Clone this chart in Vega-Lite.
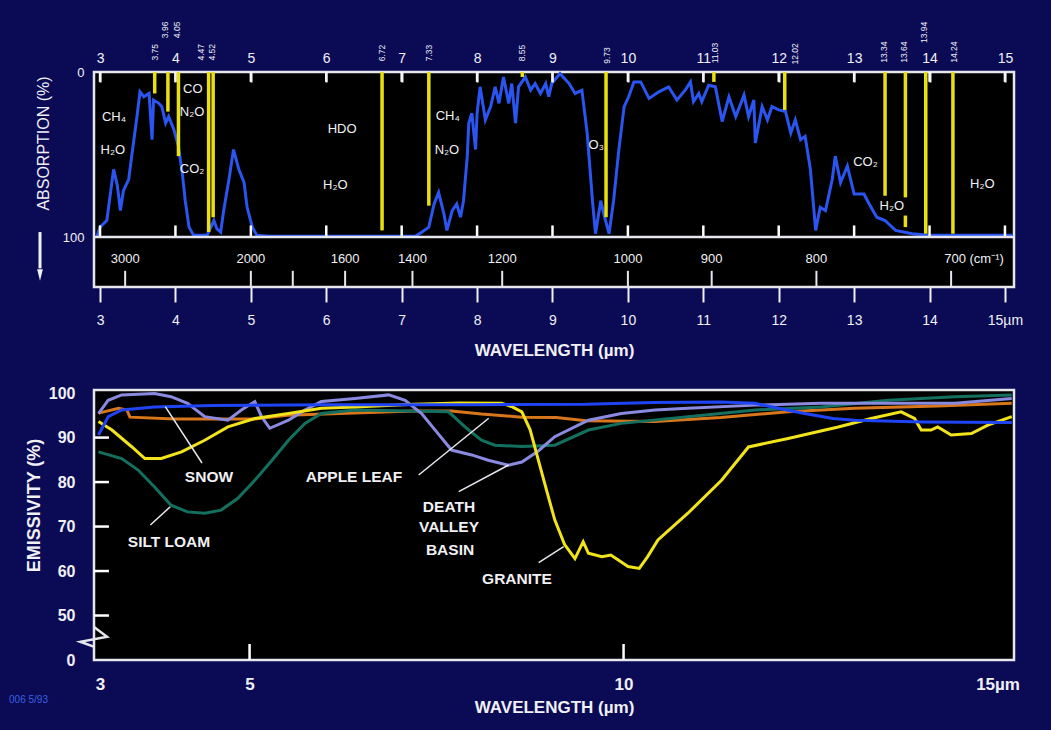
{
  "$schema": "https://vega.github.io/schema/vega-lite/v6.json",
  "background": "#0b0b55",
  "padding": {"left": 7, "top": 20, "right": 30, "bottom": 14},
  "autosize": {"type": "pad"},
  "bounds": "flush",
  "spacing": 103,
  "config": {
    "view": {"fill": "#000000", "stroke": "#e6e6ee", "strokeWidth": 2.5},
    "axis": {"domain": false, "grid": false, "labelColor": "#f0f0f5", "titleColor": "#f0f0f5", "tickColor": "#f0f0f5", "labelFont": "Liberation Sans", "titleFont": "Liberation Sans", "labelFlush": false, "labelOverlap": false},
    "text": {"font": "Liberation Sans", "color": "#f0f0f5"}
  },
  "datasets": {
    "absorption": [
      {"w":2.96,"a":99.5},{"w":3.0,"a":94},{"w":3.09,"a":90},{"w":3.18,"a":59},{"w":3.23,"a":69},{"w":3.27,"a":84},{"w":3.31,"a":72},{"w":3.38,"a":65},{"w":3.42,"a":51},{"w":3.49,"a":27},{"w":3.53,"a":12},{"w":3.58,"a":15},{"w":3.65,"a":13},{"w":3.69,"a":41},{"w":3.71,"a":17},{"w":3.78,"a":19},{"w":3.82,"a":21},{"w":3.87,"a":31},{"w":3.91,"a":27},{"w":3.98,"a":35},{"w":4.04,"a":45},{"w":4.09,"a":61},{"w":4.13,"a":78},{"w":4.18,"a":94},{"w":4.24,"a":99},{"w":4.42,"a":99},{"w":4.51,"a":90},{"w":4.55,"a":95},{"w":4.6,"a":97},{"w":4.64,"a":84},{"w":4.71,"a":65},{"w":4.77,"a":47},{"w":4.84,"a":59},{"w":4.91,"a":67},{"w":4.95,"a":82},{"w":5.02,"a":94},{"w":5.08,"a":99},{"w":5.24,"a":99.5},{"w":7.18,"a":99.5},{"w":7.27,"a":97},{"w":7.36,"a":94},{"w":7.43,"a":80},{"w":7.49,"a":73},{"w":7.56,"a":86},{"w":7.6,"a":96},{"w":7.67,"a":84},{"w":7.73,"a":80},{"w":7.78,"a":88},{"w":7.82,"a":78},{"w":7.87,"a":51},{"w":7.89,"a":31},{"w":7.93,"a":25},{"w":7.98,"a":47},{"w":8.0,"a":25},{"w":8.04,"a":9},{"w":8.11,"a":29},{"w":8.18,"a":21},{"w":8.24,"a":9},{"w":8.29,"a":19},{"w":8.35,"a":3},{"w":8.42,"a":19},{"w":8.46,"a":7},{"w":8.51,"a":31},{"w":8.55,"a":9},{"w":8.64,"a":3},{"w":8.71,"a":11},{"w":8.77,"a":7},{"w":8.84,"a":13},{"w":8.91,"a":7},{"w":8.95,"a":15},{"w":8.99,"a":7},{"w":9.1,"a":1},{"w":9.22,"a":7},{"w":9.3,"a":13},{"w":9.39,"a":11},{"w":9.46,"a":37},{"w":9.53,"a":78},{"w":9.57,"a":98},{"w":9.64,"a":78},{"w":9.68,"a":86},{"w":9.75,"a":98},{"w":9.81,"a":78},{"w":9.88,"a":47},{"w":9.95,"a":21},{"w":10.01,"a":15},{"w":10.08,"a":6},{"w":10.17,"a":6},{"w":10.28,"a":16},{"w":10.41,"a":12},{"w":10.54,"a":9},{"w":10.65,"a":17},{"w":10.76,"a":11},{"w":10.83,"a":6},{"w":10.87,"a":18},{"w":10.94,"a":13},{"w":10.98,"a":18},{"w":11.07,"a":8},{"w":11.16,"a":9},{"w":11.25,"a":30},{"w":11.34,"a":15},{"w":11.43,"a":27},{"w":11.54,"a":14},{"w":11.6,"a":27},{"w":11.67,"a":17},{"w":11.69,"a":43},{"w":11.78,"a":21},{"w":11.85,"a":29},{"w":11.91,"a":21},{"w":12.0,"a":23},{"w":12.09,"a":24},{"w":12.16,"a":37},{"w":12.22,"a":29},{"w":12.29,"a":41},{"w":12.35,"a":39},{"w":12.42,"a":59},{"w":12.49,"a":96},{"w":12.55,"a":82},{"w":12.62,"a":84},{"w":12.71,"a":65},{"w":12.75,"a":51},{"w":12.82,"a":67},{"w":12.91,"a":57},{"w":13.0,"a":74},{"w":13.13,"a":74},{"w":13.2,"a":80},{"w":13.3,"a":88},{"w":13.41,"a":90},{"w":13.55,"a":96},{"w":13.77,"a":98},{"w":13.99,"a":99},{"w":15.1,"a":99}
    ],
    "bands": [
      {"w":3.725,"a1":0,"a2":13},{"w":3.9,"a1":0,"a2":24},{"w":4.04,"a1":0,"a2":51},{"w":4.44,"a1":0,"a2":97},{"w":4.5,"a1":0,"a2":88},{"w":6.74,"a1":0,"a2":96},{"w":7.36,"a1":0,"a2":81},{"w":8.6,"a1":0,"a2":3},{"w":9.71,"a1":0,"a2":88},{"w":11.14,"a1":0,"a2":6},{"w":12.08,"a1":0,"a2":23},{"w":13.41,"a1":0,"a2":75},{"w":13.68,"a1":0,"a2":76},{"w":13.68,"a1":87,"a2":94},{"w":13.95,"a1":0,"a2":98},{"w":14.31,"a1":0,"a2":98}
    ],
    "tmarks": [
      {"w":3.0,"a1":93,"a2":100},{"w":4.0,"a1":93,"a2":100},{"w":5.0,"a1":93,"a2":100},{"w":6.0,"a1":93,"a2":100},{"w":7.0,"a1":93,"a2":100},{"w":8.0,"a1":93,"a2":100},{"w":9.0,"a1":93,"a2":100},{"w":10.0,"a1":93,"a2":100},{"w":11.0,"a1":93,"a2":100},{"w":12.0,"a1":93,"a2":100},{"w":13.0,"a1":93,"a2":100},{"w":14.0,"a1":93,"a2":100},{"w":15.0,"a1":93,"a2":100},
      {"w":3.0,"a1":0,"a2":6},{"w":4.0,"a1":0,"a2":6},{"w":5.0,"a1":0,"a2":6},{"w":6.0,"a1":0,"a2":6},{"w":7.0,"a1":0,"a2":6},{"w":8.0,"a1":0,"a2":6},{"w":9.0,"a1":0,"a2":6},{"w":10.0,"a1":0,"a2":6},{"w":11.0,"a1":0,"a2":6},{"w":12.0,"a1":0,"a2":6},{"w":13.0,"a1":0,"a2":6},{"w":14.0,"a1":0,"a2":6},{"w":15.0,"a1":0,"a2":6}
    ],
    "bandlabels": [
      {"w":3.729,"a":-12,"t":"3.75"},{"w":3.86,"a":-25.5,"t":"3.96"},{"w":4.02,"a":-25.5,"t":"4.05"},{"w":4.34,"a":-12,"t":"4.47"},{"w":4.485,"a":-12,"t":"4.52"},{"w":6.74,"a":-11.5,"t":"6.72"},{"w":7.36,"a":-11.5,"t":"7.33"},{"w":8.6,"a":-11.5,"t":"8.55"},{"w":9.72,"a":-10,"t":"9.73"},{"w":11.16,"a":-11.5,"t":"11.03"},{"w":12.22,"a":-11,"t":"12.02"},{"w":13.4,"a":-12,"t":"13.34"},{"w":13.66,"a":-12,"t":"13.64"},{"w":13.93,"a":-24,"t":"13.94"},{"w":14.33,"a":-12,"t":"14.24"}
    ],
    "gases": [
      {"w":3.185,"a":27,"t":"CH₄"},{"w":3.17,"a":47,"t":"H₂O"},{"w":4.23,"a":10,"t":"CO"},{"w":4.22,"a":24,"t":"N₂O"},{"w":4.22,"a":59,"t":"CO₂"},{"w":6.21,"a":34.7,"t":"HDO"},{"w":6.12,"a":68.5,"t":"H₂O"},{"w":7.61,"a":26.7,"t":"CH₄"},{"w":7.6,"a":47.3,"t":"N₂O"},{"w":9.58,"a":44,"t":"O₃"},{"w":13.15,"a":54.3,"t":"CO₂"},{"w":13.5,"a":81,"t":"H₂O"},{"w":14.7,"a":68,"t":"H₂O"}
    ],
    "wavenumbers": [
      {"w":3.333,"lw":3.333,"t":"3000"},{"w":5.0,"lw":5.0,"t":"2000"},{"w":5.556,"lw":5.556,"t":""},{"w":6.25,"lw":6.25,"t":"1600"},{"w":7.143,"lw":7.143,"t":"1400"},{"w":8.333,"lw":8.333,"t":"1200"},{"w":10.0,"lw":10.0,"t":"1000"},{"w":11.111,"lw":11.111,"t":"900"},{"w":12.5,"lw":12.5,"t":"800"},{"w":14.286,"lw":14.59,"t":"700 (cm⁻¹)"}
    ],
    "emissivity": [
      {"s":"APPLE LEAF","w":2.98,"v":95.5},{"s":"APPLE LEAF","w":3.25,"v":96.6},{"s":"APPLE LEAF","w":3.36,"v":96.2},{"s":"APPLE LEAF","w":3.4,"v":94.6},{"s":"APPLE LEAF","w":4.0,"v":94.2},{"s":"APPLE LEAF","w":5.07,"v":94.2},{"s":"APPLE LEAF","w":5.5,"v":95.0},{"s":"APPLE LEAF","w":6.5,"v":95.6},{"s":"APPLE LEAF","w":7.2,"v":96.0},{"s":"APPLE LEAF","w":7.7,"v":96.0},{"s":"APPLE LEAF","w":8.1,"v":95.3},{"s":"APPLE LEAF","w":8.64,"v":94.6},{"s":"APPLE LEAF","w":9.1,"v":94.5},{"s":"APPLE LEAF","w":9.5,"v":93.8},{"s":"APPLE LEAF","w":10.42,"v":93.6},{"s":"APPLE LEAF","w":11.3,"v":94.5},{"s":"APPLE LEAF","w":12.2,"v":95.8},{"s":"APPLE LEAF","w":13.09,"v":96.6},{"s":"APPLE LEAF","w":14.2,"v":97.1},{"s":"APPLE LEAF","w":15.19,"v":97.7},
      {"s":"SILT LOAM","w":2.98,"v":86.8},{"s":"SILT LOAM","w":3.29,"v":85.3},{"s":"SILT LOAM","w":3.51,"v":82.7},{"s":"SILT LOAM","w":3.73,"v":78.9},{"s":"SILT LOAM","w":3.95,"v":74.8},{"s":"SILT LOAM","w":4.17,"v":73.3},{"s":"SILT LOAM","w":4.4,"v":73.0},{"s":"SILT LOAM","w":4.62,"v":73.7},{"s":"SILT LOAM","w":4.84,"v":76.3},{"s":"SILT LOAM","w":5.07,"v":80.4},{"s":"SILT LOAM","w":5.3,"v":84.9},{"s":"SILT LOAM","w":5.52,"v":89.4},{"s":"SILT LOAM","w":5.74,"v":93.2},{"s":"SILT LOAM","w":5.96,"v":95.4},{"s":"SILT LOAM","w":6.41,"v":96.2},{"s":"SILT LOAM","w":7.66,"v":95.8},{"s":"SILT LOAM","w":7.88,"v":92.4},{"s":"SILT LOAM","w":8.1,"v":89.4},{"s":"SILT LOAM","w":8.28,"v":88.3},{"s":"SILT LOAM","w":8.64,"v":88.0},{"s":"SILT LOAM","w":9.08,"v":88.3},{"s":"SILT LOAM","w":9.53,"v":91.7},{"s":"SILT LOAM","w":9.97,"v":93.2},{"s":"SILT LOAM","w":10.86,"v":94.7},{"s":"SILT LOAM","w":11.76,"v":96.2},{"s":"SILT LOAM","w":12.64,"v":96.9},{"s":"SILT LOAM","w":13.54,"v":98.4},{"s":"SILT LOAM","w":14.43,"v":99.2},{"s":"SILT LOAM","w":15.19,"v":99.6},
      {"s":"DEATH VALLEY BASIN","w":2.98,"v":95.4},{"s":"DEATH VALLEY BASIN","w":3.11,"v":98.4},{"s":"DEATH VALLEY BASIN","w":3.29,"v":99.6},{"s":"DEATH VALLEY BASIN","w":3.73,"v":99.9},{"s":"DEATH VALLEY BASIN","w":3.95,"v":99.2},{"s":"DEATH VALLEY BASIN","w":4.17,"v":97.7},{"s":"DEATH VALLEY BASIN","w":4.4,"v":94.7},{"s":"DEATH VALLEY BASIN","w":4.71,"v":93.9},{"s":"DEATH VALLEY BASIN","w":4.89,"v":96.2},{"s":"DEATH VALLEY BASIN","w":5.07,"v":98.1},{"s":"DEATH VALLEY BASIN","w":5.16,"v":94.7},{"s":"DEATH VALLEY BASIN","w":5.27,"v":92.1},{"s":"DEATH VALLEY BASIN","w":5.52,"v":93.9},{"s":"DEATH VALLEY BASIN","w":5.74,"v":96.2},{"s":"DEATH VALLEY BASIN","w":5.96,"v":98.1},{"s":"DEATH VALLEY BASIN","w":6.41,"v":98.8},{"s":"DEATH VALLEY BASIN","w":6.86,"v":99.6},{"s":"DEATH VALLEY BASIN","w":7.08,"v":98.4},{"s":"DEATH VALLEY BASIN","w":7.3,"v":95.4},{"s":"DEATH VALLEY BASIN","w":7.52,"v":90.9},{"s":"DEATH VALLEY BASIN","w":7.7,"v":87.2},{"s":"DEATH VALLEY BASIN","w":7.97,"v":86.1},{"s":"DEATH VALLEY BASIN","w":8.19,"v":84.9},{"s":"DEATH VALLEY BASIN","w":8.46,"v":83.8},{"s":"DEATH VALLEY BASIN","w":8.64,"v":84.5},{"s":"DEATH VALLEY BASIN","w":8.86,"v":87.0},{"s":"DEATH VALLEY BASIN","w":9.08,"v":90.2},{"s":"DEATH VALLEY BASIN","w":9.53,"v":93.9},{"s":"DEATH VALLEY BASIN","w":9.97,"v":95.4},{"s":"DEATH VALLEY BASIN","w":10.42,"v":96.2},{"s":"DEATH VALLEY BASIN","w":10.86,"v":96.6},{"s":"DEATH VALLEY BASIN","w":11.76,"v":97.3},{"s":"DEATH VALLEY BASIN","w":12.64,"v":97.7},{"s":"DEATH VALLEY BASIN","w":13.54,"v":97.7},{"s":"DEATH VALLEY BASIN","w":14.43,"v":97.7},{"s":"DEATH VALLEY BASIN","w":15.19,"v":98.8},
      {"s":"GRANITE","w":2.98,"v":93.6},{"s":"GRANITE","w":3.16,"v":91.7},{"s":"GRANITE","w":3.42,"v":88.0},{"s":"GRANITE","w":3.6,"v":85.3},{"s":"GRANITE","w":3.82,"v":85.3},{"s":"GRANITE","w":4.09,"v":86.8},{"s":"GRANITE","w":4.4,"v":89.4},{"s":"GRANITE","w":4.71,"v":92.4},{"s":"GRANITE","w":5.07,"v":94.3},{"s":"GRANITE","w":5.52,"v":95.4},{"s":"GRANITE","w":5.96,"v":96.6},{"s":"GRANITE","w":6.41,"v":96.9},{"s":"GRANITE","w":7.2,"v":97.5},{"s":"GRANITE","w":7.8,"v":97.8},{"s":"GRANITE","w":8.37,"v":97.7},{"s":"GRANITE","w":8.5,"v":97.0},{"s":"GRANITE","w":8.64,"v":95.8},{"s":"GRANITE","w":8.75,"v":91.8},{"s":"GRANITE","w":8.86,"v":85.0},{"s":"GRANITE","w":8.97,"v":78.2},{"s":"GRANITE","w":9.08,"v":71.5},{"s":"GRANITE","w":9.21,"v":66.0},{"s":"GRANITE","w":9.35,"v":62.8},{"s":"GRANITE","w":9.46,"v":66.6},{"s":"GRANITE","w":9.53,"v":64.0},{"s":"GRANITE","w":9.71,"v":63.2},{"s":"GRANITE","w":9.83,"v":63.6},{"s":"GRANITE","w":10.06,"v":61.0},{"s":"GRANITE","w":10.21,"v":60.6},{"s":"GRANITE","w":10.32,"v":63.2},{"s":"GRANITE","w":10.46,"v":67.0},{"s":"GRANITE","w":10.86,"v":73.0},{"s":"GRANITE","w":11.31,"v":80.4},{"s":"GRANITE","w":11.67,"v":87.9},{"s":"GRANITE","w":12.2,"v":89.8},{"s":"GRANITE","w":12.87,"v":92.4},{"s":"GRANITE","w":13.31,"v":94.3},{"s":"GRANITE","w":13.71,"v":95.8},{"s":"GRANITE","w":13.89,"v":94.3},{"s":"GRANITE","w":13.98,"v":91.7},{"s":"GRANITE","w":14.11,"v":91.7},{"s":"GRANITE","w":14.2,"v":92.4},{"s":"GRANITE","w":14.38,"v":90.6},{"s":"GRANITE","w":14.65,"v":90.9},{"s":"GRANITE","w":14.87,"v":92.8},{"s":"GRANITE","w":15.19,"v":94.7},
      {"s":"SNOW","w":2.98,"v":90.6},{"s":"SNOW","w":3.11,"v":94.7},{"s":"SNOW","w":3.29,"v":96.2},{"s":"SNOW","w":3.73,"v":96.9},{"s":"SNOW","w":4.5,"v":97.2},{"s":"SNOW","w":6.0,"v":97.4},{"s":"SNOW","w":8.0,"v":97.4},{"s":"SNOW","w":9.5,"v":97.5},{"s":"SNOW","w":10.4,"v":97.9},{"s":"SNOW","w":11.3,"v":98.0},{"s":"SNOW","w":11.76,"v":97.7},{"s":"SNOW","w":12.1,"v":96.5},{"s":"SNOW","w":12.42,"v":95.4},{"s":"SNOW","w":12.8,"v":94.3},{"s":"SNOW","w":13.09,"v":93.9},{"s":"SNOW","w":14.0,"v":93.5},{"s":"SNOW","w":15.19,"v":93.4}
    ],
    "pointers": [
      {"w":4.364,"v":84.29,"w2":3.873,"v2":96.95},
      {"w":7.261,"v":81.59,"w2":8.197,"v2":94.34},
      {"w":7.796,"v":77.84,"w2":8.464,"v2":83.84},
      {"w":3.673,"v":70.35,"w2":3.94,"v2":74.46},
      {"w":8.865,"v":61.87,"w2":9.199,"v2":65.47}
    ],
    "bmarks": [
      {"w":2.92,"v":50.0,"w2":3.12,"v2":50.0},
      {"w":2.92,"v":60.0,"w2":3.12,"v2":60.0},
      {"w":2.92,"v":70.0,"w2":3.12,"v2":70.0},
      {"w":2.92,"v":80.0,"w2":3.12,"v2":80.0},
      {"w":2.92,"v":90.0,"w2":3.12,"v2":90.0},
      {"w":5.0,"v":40.0,"w2":5.0,"v2":43.6},
      {"w":10.0,"v":40.0,"w2":10.0,"v2":43.6}
    ],
    "labels": [
      {"w":4.457,"v":81.1,"t":"SNOW"},
      {"w":6.396,"v":81.1,"t":"APPLE LEAF"},
      {"w":3.923,"v":66.5,"t":"SILT LOAM"},
      {"w":7.666,"v":74.4,"t":"DEATH"},
      {"w":7.666,"v":69.9,"t":"VALLEY"},
      {"w":7.68,"v":64.7,"t":"BASIN"},
      {"w":8.575,"v":58.2,"t":"GRANITE"}
    ],
    "zigzag": [
      {"i":0,"w":2.916,"v":47.5},{"i":1,"w":3.094,"v":45.24},{"i":2,"w":2.737,"v":44.1},{"i":3,"w":2.916,"v":43.0}
    ]
  },
  "vconcat": [
    {
      "width": 920,
      "height": 215,
      "resolve": {"axis": {"x": "independent", "y": "independent"}},
      "layer": [
        {
          "data": {"name": "absorption"},
          "mark": {"type": "line", "color": "#2b55f0", "strokeWidth": 3},
          "encoding": {
            "x": {"field": "w", "type": "quantitative", "scale": {"domain": [2.92, 15.12], "nice": false, "zero": false},
              "axis": {"orient": "bottom", "values": [3,4,5,6,7,8,9,10,11,12,13,14,15], "labelExpr": "datum.value == 15 ? '15µm' : datum.label", "tickSize": 15, "tickWidth": 2, "labelPadding": 11, "labelFontSize": 14, "title": "WAVELENGTH (µm)", "titleFontSize": 17, "titleFontWeight": "bold", "titleY": 63, "titleBaseline": "middle"}},
            "y": {"field": "a", "type": "quantitative", "scale": {"domain": [0, 130.3], "reverse": true, "nice": false, "zero": false},
              "axis": {"orient": "left", "values": [0, 100], "ticks": false, "labelPadding": 10, "labelFontSize": 13, "title": "ABSORPTION (%)", "titleAngle": 270, "titleX": -51, "titleY": 71, "titleFontSize": 16, "titleFontWeight": "normal", "titleAlign": "center", "titleBaseline": "middle"}}
          }
        },
        {
          "data": {"name": "tmarks"},
          "mark": {"type": "rule", "color": "#ffffff", "strokeWidth": 2.5},
          "encoding": {
            "x": {"field": "w", "type": "quantitative", "scale": {"domain": [2.92, 15.12], "nice": false, "zero": false}, "axis": null},
            "y": {"field": "a1", "type": "quantitative", "scale": {"domain": [0, 130.3], "reverse": true, "nice": false, "zero": false}, "axis": null},
            "y2": {"field": "a2"}
          }
        },
        {
          "data": {"name": "bands"},
          "mark": {"type": "rule", "color": "#e8e010", "strokeWidth": 3.5},
          "encoding": {
            "x": {"field": "w", "type": "quantitative", "scale": {"domain": [2.92, 15.12], "nice": false, "zero": false},
              "axis": {"orient": "top", "values": [3,4,5,6,7,8,9,10,11,12,13,14,15], "tickSize": -10, "tickWidth": 2, "zindex": 2, "labelPadding": 17, "labelFontSize": 14, "title": null}},
            "y": {"field": "a1", "type": "quantitative", "scale": {"domain": [0, 130.3], "reverse": true, "nice": false, "zero": false}, "axis": null},
            "y2": {"field": "a2"}
          }
        },
        {
          "data": {"values": [{}]},
          "mark": {"type": "rule", "color": "#e6e6ee", "strokeWidth": 2.5},
          "encoding": {
            "y": {"datum": 100, "type": "quantitative", "scale": {"domain": [0, 130.3], "reverse": true, "nice": false, "zero": false}, "axis": null}
          }
        },
        {
          "data": {"name": "wavenumbers"},
          "mark": {"type": "rule", "color": "#e6e6ee", "strokeWidth": 2},
          "encoding": {
            "x": {"field": "w", "type": "quantitative", "scale": {"domain": [2.92, 15.12], "nice": false, "zero": false}, "axis": null},
            "y": {"datum": 120.5, "type": "quantitative", "scale": {"domain": [0, 130.3], "reverse": true, "nice": false, "zero": false}, "axis": null},
            "y2": {"datum": 130.3}
          }
        },
        {
          "data": {"name": "wavenumbers"},
          "mark": {"type": "text", "fontSize": 13, "baseline": "middle"},
          "encoding": {
            "x": {"field": "lw", "type": "quantitative", "scale": {"domain": [2.92, 15.12], "nice": false, "zero": false}, "axis": null},
            "y": {"datum": 113.3, "type": "quantitative", "scale": {"domain": [0, 130.3], "reverse": true, "nice": false, "zero": false}, "axis": null},
            "text": {"field": "t"}
          }
        },
        {
          "data": {"name": "gases"},
          "mark": {"type": "text", "fontSize": 13, "baseline": "middle"},
          "encoding": {
            "x": {"field": "w", "type": "quantitative", "scale": {"domain": [2.92, 15.12], "nice": false, "zero": false}, "axis": null},
            "y": {"field": "a", "type": "quantitative", "scale": {"domain": [0, 130.3], "reverse": true, "nice": false, "zero": false}, "axis": null},
            "text": {"field": "t"}
          }
        },
        {
          "data": {"name": "bandlabels"},
          "mark": {"type": "text", "fontSize": 8.5, "angle": 270, "align": "center", "baseline": "middle"},
          "encoding": {
            "x": {"field": "w", "type": "quantitative", "scale": {"domain": [2.92, 15.12], "nice": false, "zero": false}, "axis": null},
            "y": {"field": "a", "type": "quantitative", "scale": {"domain": [0, 130.3], "reverse": true, "nice": false, "zero": false}, "axis": null},
            "text": {"field": "t"}
          }
        },
        {
          "data": {"values": [{}]},
          "mark": {"type": "rule", "color": "#f0f0f5", "strokeWidth": 3},
          "encoding": {
            "x": {"datum": 2.204, "type": "quantitative", "scale": {"domain": [2.92, 15.12], "nice": false, "zero": false}, "axis": null},
            "y": {"datum": 97, "type": "quantitative", "scale": {"domain": [0, 130.3], "reverse": true, "nice": false, "zero": false}, "axis": null},
            "y2": {"datum": 119}
          }
        },
        {
          "data": {"values": [{}]},
          "mark": {"type": "point", "shape": "M-0.5,-1L0.5,-1L0,1Z", "size": 130, "filled": true, "color": "#f0f0f5", "opacity": 1},
          "encoding": {
            "x": {"datum": 2.204, "type": "quantitative", "scale": {"domain": [2.92, 15.12], "nice": false, "zero": false}, "axis": null},
            "y": {"datum": 123, "type": "quantitative", "scale": {"domain": [0, 130.3], "reverse": true, "nice": false, "zero": false}, "axis": null}
          }
        }
      ]
    },
    {
      "width": 920,
      "height": 270,
      "resolve": {"axis": {"x": "independent", "y": "independent"}},
      "layer": [
        {
          "data": {"name": "emissivity"},
          "mark": {"type": "line", "strokeWidth": 3},
          "encoding": {
            "x": {"field": "w", "type": "quantitative", "scale": {"domain": [2.92, 15.22], "nice": false, "zero": false},
              "axis": {"orient": "bottom", "values": [3, 5, 10, 15], "labelExpr": "datum.value == 15 ? '15µm' : datum.label", "ticks": false, "labelPadding": 16, "labelFontSize": 17, "labelFontWeight": "bold", "title": "WAVELENGTH (µm)", "titleFontSize": 17, "titleFontWeight": "bold", "titleY": 47, "titleBaseline": "middle"}},
            "y": {"field": "v", "type": "quantitative", "scale": {"domain": [40, 100.7], "nice": false, "zero": false},
              "axis": {"orient": "left", "values": [40, 50, 60, 70, 80, 90, 100], "labelExpr": "datum.value == 40 ? '0' : datum.label", "ticks": false, "labelPadding": 19, "labelFontSize": 16, "labelFontWeight": "bold", "title": "EMISSIVITY (%)", "titleAngle": 270, "titleX": -60, "titleY": 115, "titleFontSize": 18, "titleFontWeight": "bold", "titleAlign": "center", "titleBaseline": "middle"}},
            "color": {"field": "s", "type": "nominal", "legend": null,
              "scale": {"domain": ["APPLE LEAF", "SILT LOAM", "DEATH VALLEY BASIN", "GRANITE", "SNOW"], "range": ["#d8761c", "#13705f", "#8a8ae0", "#f2e41a", "#1f44f5"]}}
          }
        },
        {
          "data": {"name": "bmarks"},
          "mark": {"type": "rule", "color": "#ffffff", "strokeWidth": 2.5},
          "encoding": {
            "x": {"field": "w", "type": "quantitative", "scale": {"domain": [2.92, 15.22], "nice": false, "zero": false}, "axis": null},
            "y": {"field": "v", "type": "quantitative", "scale": {"domain": [40, 100.7], "nice": false, "zero": false}, "axis": null},
            "x2": {"field": "w2"},
            "y2": {"field": "v2"}
          }
        },
        {
          "data": {"name": "pointers"},
          "mark": {"type": "rule", "color": "#e8e8f0", "strokeWidth": 1.5},
          "encoding": {
            "x": {"field": "w", "type": "quantitative", "scale": {"domain": [2.92, 15.22], "nice": false, "zero": false}, "axis": null},
            "y": {"field": "v", "type": "quantitative", "scale": {"domain": [40, 100.7], "nice": false, "zero": false}, "axis": null},
            "x2": {"field": "w2"},
            "y2": {"field": "v2"}
          }
        },
        {
          "data": {"name": "labels"},
          "mark": {"type": "text", "fontSize": 15.5, "fontWeight": "bold", "baseline": "middle"},
          "encoding": {
            "x": {"field": "w", "type": "quantitative", "scale": {"domain": [2.92, 15.22], "nice": false, "zero": false}, "axis": null},
            "y": {"field": "v", "type": "quantitative", "scale": {"domain": [40, 100.7], "nice": false, "zero": false}, "axis": null},
            "text": {"field": "t"}
          }
        },
        {
          "data": {"name": "zigzag"},
          "mark": {"type": "line", "color": "#e6e6ee", "strokeWidth": 2.5},
          "encoding": {
            "x": {"field": "w", "type": "quantitative", "scale": {"domain": [2.92, 15.22], "nice": false, "zero": false}, "axis": null},
            "y": {"field": "v", "type": "quantitative", "scale": {"domain": [40, 100.7], "nice": false, "zero": false}, "axis": null},
            "order": {"field": "i"}
          }
        },
        {
          "data": {"values": [{"t": "006  5/93"}]},
          "mark": {"type": "text", "fontSize": 10, "align": "left", "baseline": "middle", "color": "#3a5fe0"},
          "encoding": {
            "x": {"datum": 1.784, "type": "quantitative", "scale": {"domain": [2.92, 15.22], "nice": false, "zero": false}, "axis": null},
            "y": {"datum": 31.0, "type": "quantitative", "scale": {"domain": [40, 100.7], "nice": false, "zero": false}, "axis": null},
            "text": {"field": "t"}
          }
        }
      ]
    }
  ]
}
